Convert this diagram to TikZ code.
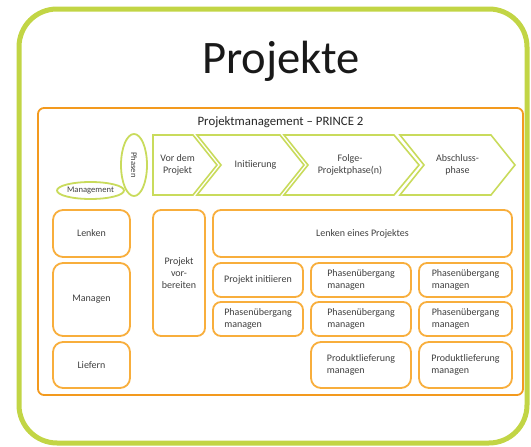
\documentclass[tikz,border=0pt]{standalone}
\usepackage{fontspec}
\setmainfont{Carlito}
\usetikzlibrary{shapes.geometric}
\definecolor{framegreen}{HTML}{C2D545}
\definecolor{chevgreen}{HTML}{C9DB5C}
\definecolor{boxorange}{HTML}{F8AE3C}
\definecolor{outerorange}{HTML}{F39A1E}
\definecolor{txt}{HTML}{404040}
\begin{document}
\begin{tikzpicture}[x=1pt,y=-1pt,
  procbox/.style={draw=boxorange, line width=1.8pt, rounded corners=8pt, fill=white, inner sep=0pt},
  chev/.style={draw=chevgreen, line width=1.6pt, fill=white, line join=miter},
  ell/.style={ellipse, draw=chevgreen, line width=1.8pt, inner sep=0pt},
  lbl/.style={text=txt, font=\fontsize{10}{12.2}\selectfont, align=center},
  lbll/.style={text=txt, font=\fontsize{10}{12.2}\selectfont, align=left},
  small/.style={text=txt, font=\fontsize{8.6}{10}\selectfont},
]
\useasboundingbox (0,0) rectangle (531,447);

% outer frame and title
\node[draw=framegreen, line width=5pt, rounded corners=38pt,
      minimum width=508pt, minimum height=434pt] (frame) at (273,226) {};
\node[anchor=base, text=black!90, font=\fontsize{46.6}{50}\selectfont] (title) at (281,74) {Projekte};

% PRINCE2 container
\node[draw=outerorange, line width=1.8pt, rounded corners=6pt,
      minimum width=485pt, minimum height=287pt] (pm) at (280.5,251.5) {};
\node[anchor=base, text=black!85, font=\fontsize{12.8}{14}\selectfont] (pmtitle) at (280.5,125)
  {Projektmanagement -- PRINCE 2};

% axis labels
\node[ell, minimum width=67pt, minimum height=17pt] (mgmt) at (90.5,190.5) {};
\node[small] (mgmttxt) at (mgmt) {Management};
\node[ell, minimum width=26pt, minimum height=62pt] (phasen) at (134,165) {};
\node[small, rotate=-90] (phasentxt) at (phasen) {Phasen};

% phase chevrons
\draw[chev] (153,135) -- (193,135) -- (217,165) -- (193,195) -- (153,195) -- cycle;
\draw[chev] (197,135) -- (280,135) -- (304,165) -- (280,195) -- (197,195) -- (221,165) -- cycle;
\draw[chev] (284,135) -- (394,135) -- (419,165) -- (394,195) -- (284,195) -- (308,165) -- cycle;
\draw[chev] (400,135) -- (491,135) -- (515,165) -- (491,195) -- (400,195) -- (424,165) -- cycle;
\node[lbl] (p1) at (177.5,165) {Vor dem\\Projekt};
\node[lbl] (p2) at (255.5,165) {Initiierung};
\node[lbl] (p3) at (350,165) {Folge-\\Projektphase(n)};
\node[lbl] (p4) at (457.5,165) {Abschluss-\\phase};

% management levels
\node[procbox, minimum width=77pt, minimum height=47pt, lbl, rounded corners=10pt] (lenken) at (91.5,233.5) {Lenken};
\node[procbox, minimum width=77pt, minimum height=73pt, lbl, rounded corners=10pt] (managen) at (91.5,299.5) {Managen};
\node[procbox, minimum width=77pt, minimum height=46pt, lbl, rounded corners=10pt] (liefern) at (91.5,365) {Liefern};

% processes
\node[procbox, minimum width=52pt, minimum height=126pt, lbl] (vorb) at (179,273) {Projekt\\vor-\\bereiten};
\node[procbox, minimum width=299pt, minimum height=47pt, lbl] (lep) at (362.5,233.5) {Lenken eines Projektes};
\node[procbox, minimum width=90pt, minimum height=34pt, lbl] (init) at (258,280) {Projekt initiieren};
\node[procbox, minimum width=90pt, minimum height=34pt, lbll] (pu1) at (258,319) {Phasenübergang\\managen};
\node[procbox, minimum width=100pt, minimum height=34pt, lbll] (pu2) at (361,280) {Phasenübergang\\managen};
\node[procbox, minimum width=93pt, minimum height=34pt, lbll] (pu3) at (465.5,280) {Phasenübergang\\managen};
\node[procbox, minimum width=100pt, minimum height=34pt, lbll] (pu4) at (361,319) {Phasenübergang\\managen};
\node[procbox, minimum width=93pt, minimum height=34pt, lbll] (pu5) at (465.5,319) {Phasenübergang\\managen};
\node[procbox, minimum width=100pt, minimum height=46pt, lbll, rounded corners=10pt] (pl1) at (361,365) {Produktlieferung\\managen};
\node[procbox, minimum width=93pt, minimum height=46pt, lbll, rounded corners=10pt] (pl2) at (465.5,365) {Produktlieferung\\managen};
\end{tikzpicture}
\end{document}
